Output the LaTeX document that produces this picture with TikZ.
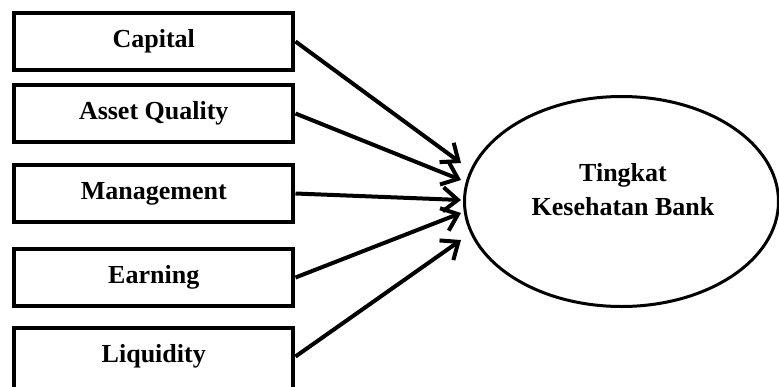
\documentclass[tikz,border=0pt]{standalone}
\usepackage{fontspec}
\setmainfont{Liberation Serif}
\usetikzlibrary{shapes.geometric,arrows.meta}
\begin{document}
\begin{tikzpicture}[x=0.75pt,y=-0.75pt,
  varbox/.style={draw,line width=3pt,minimum width=209.6pt,minimum height=42.75pt,inner sep=0pt,
    font=\fontsize{19.5}{23}\selectfont\bfseries},
  conn/.style={line width=3pt,-{Straight Barb[length=11pt,width=18pt,line width=3pt]}}]
\useasboundingbox (0,0) rectangle (779,386);
\node[varbox] (cap) at (153.75,41.5) {Capital};
\node[varbox] (aq) at (153.75,113.5) {Asset Quality};
\node[varbox] (man) at (153.75,193.5) {Management};
\node[varbox] (earn) at (153.75,277.5) {Earning};
\node[varbox,minimum height=46.5pt] (liq) at (153.75,359) {};
\node[font=\fontsize{19.5}{23}\selectfont\bfseries] (liqt) at (153.75,356.5) {Liquidity};
\node[ellipse,draw,line width=2.25pt,minimum width=235.5pt,minimum height=157.5pt,inner sep=0pt] (bank) at (621.5,201.5) {};
\node[align=center,font=\fontsize{19.5}{25.5}\selectfont\bfseries] (lbl) at (623,190) {Tingkat\\Kesehatan Bank};
\coordinate (t1) at (461,163);
\coordinate (t2) at (461,180);
\coordinate (t3) at (461,200);
\coordinate (t4) at (461,213);
\coordinate (t5) at (461,240);
\draw[conn] (cap.east) -- (t1);
\draw[conn] (aq.east) -- (t2);
\draw[conn] (man.east) -- (t3);
\draw[conn] (earn.east) -- (t4);
\draw[conn] (liq.east |- liqt) -- (t5);
\end{tikzpicture}
\end{document}
